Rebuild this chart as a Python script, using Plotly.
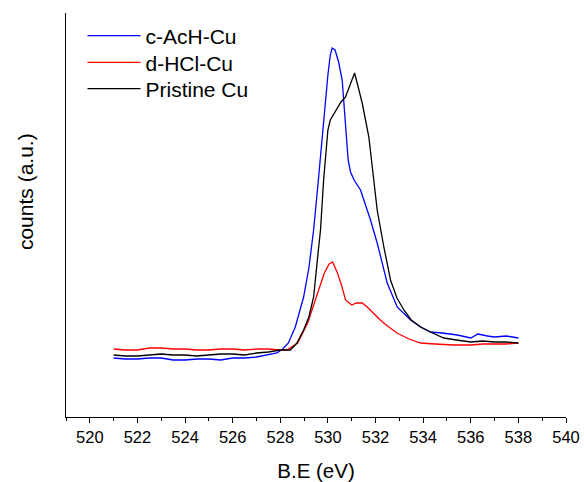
import plotly.graph_objects as go

# Binding energy (eV) and counts (a.u.)
be_acH = [521, 521.5, 522, 522.5, 523, 523.5, 524, 524.5, 525, 525.5, 526, 526.5, 527, 527.5,
          527.86, 528.1, 528.34, 528.63, 528.98, 529.2, 529.4, 529.6, 529.8, 530.0, 530.1, 530.18,
          530.3, 530.45, 530.6, 530.74, 530.85, 530.95, 531.1, 531.37, 531.79, 532.07, 532.49,
          532.91, 533.47, 533.9, 534.31, 534.8, 535.44, 536.0, 536.3, 536.7, 537, 537.5, 538]
cnt_acH = [59, 58, 58, 59, 59, 57, 57, 58, 58, 57, 59, 59, 60, 62,
           64, 68, 74, 90, 120, 149, 187, 237, 292, 342, 362, 369,
           367, 355, 337, 287, 257, 245, 237, 227, 197, 174, 134,
           110, 97, 90, 85, 84, 82, 79, 83, 81, 80, 81, 79]

be_hcl = [521, 521.5, 522, 522.5, 523, 523.5, 524, 524.5, 525, 525.5, 526, 526.5, 527, 527.5,
          528, 528.28, 528.73, 529.15, 529.57, 529.85, 530.05, 530.2, 530.4, 530.57, 530.74,
          531.0, 531.2, 531.44, 531.65, 531.9, 532.2, 532.5, 532.9, 533.4, 533.89, 534.5,
          535.28, 536, 536.5, 537, 537.5, 538]
cnt_hcl = [68, 67, 67, 69, 69, 68, 68, 67, 67, 68, 68, 67, 68, 68,
           67, 67, 74, 94, 124, 144, 153, 155, 144, 132, 117,
           112, 114, 114, 110, 104, 97, 91, 84, 78, 74, 73,
           72, 72, 73, 73, 73, 74]

be_cu = [521, 521.5, 522, 522.5, 523, 523.5, 524, 524.5, 525, 525.5, 526, 526.5, 527, 527.5,
         528, 528.42, 528.7, 528.98, 529.2, 529.4, 529.6, 529.69, 529.82, 530.0, 530.1, 530.3,
         530.55, 530.74, 530.95, 531.12, 531.25, 531.44, 531.72, 532.07, 532.35, 532.63, 532.9,
         533.19, 533.5, 533.89, 534.3, 534.87, 535.4, 536, 536.5, 537, 537.5, 538]
cnt_cu = [62, 61, 61, 62, 63, 62, 62, 61, 62, 63, 63, 62, 64, 65,
          67, 67, 74, 87, 100, 120, 167, 187, 237, 287, 297, 305,
          315, 320, 333, 344, 332, 314, 280, 207, 170, 137, 119,
          107, 97, 90, 85, 79, 77, 75, 76, 75, 75, 74]

series_names = ["c-AcH-Cu", "d-HCl-Cu", "Pristine Cu"]
series_x = [be_acH, be_hcl, be_cu]
series_y = [cnt_acH, cnt_hcl, cnt_cu]
series_colors = ["#0000ff", "#ff0000", "#000000"]
legend_ids = ["legend", "legend2", "legend3"]
legend_rows = [0.943, 0.877, 0.812]

x_ticks = list(range(520, 541, 2))

fig = go.Figure()
for name, xs, ys, col, lid in zip(series_names, series_x, series_y, series_colors, legend_ids):
    fig.add_trace(go.Scatter(x=xs, y=ys, mode="lines", name=name, legend=lid,
                             line=dict(color=col, width=1.3)))

legend_common = dict(x=0.033, xanchor="left", yanchor="middle",
                     font=dict(size=21), bgcolor="rgba(0,0,0,0)", itemwidth=53)

fig.update_layout(
    width=584, height=482,
    margin=dict(l=66, r=18, t=13, b=65, autoexpand=False),
    paper_bgcolor="white", plot_bgcolor="white",
    font=dict(family="Liberation Sans, Arial, sans-serif", color="black"),
    showlegend=True,
    legend=dict(y=legend_rows[0], **legend_common),
    legend2=dict(y=legend_rows[1], **legend_common),
    legend3=dict(y=legend_rows[2], **legend_common),
    xaxis=dict(range=[519, 540], tickvals=x_ticks, ticktext=[str(v) for v in x_ticks],
               showline=True, linecolor="black", linewidth=1,
               ticks="outside", ticklen=5, tickcolor="black",
               minor=dict(dtick=1, tick0=519, ticks="outside", ticklen=3, tickcolor="black"),
               tickfont=dict(size=16.5), showgrid=False, zeroline=False, automargin=False,
               title=dict(text="B.E (eV)", font=dict(size=20.5), standoff=18)),
    yaxis=dict(range=[0, 404], showline=True, linecolor="black", linewidth=1,
               showticklabels=False, ticks="", showgrid=False, zeroline=False,
               automargin=False),
    annotations=[dict(text="counts (a.u.)", textangle=-90, xref="paper", yref="paper",
                      x=-0.081, y=0.558, xanchor="center", yanchor="middle",
                      showarrow=False, font=dict(size=21))],
)

fig.write_html("out.html")
